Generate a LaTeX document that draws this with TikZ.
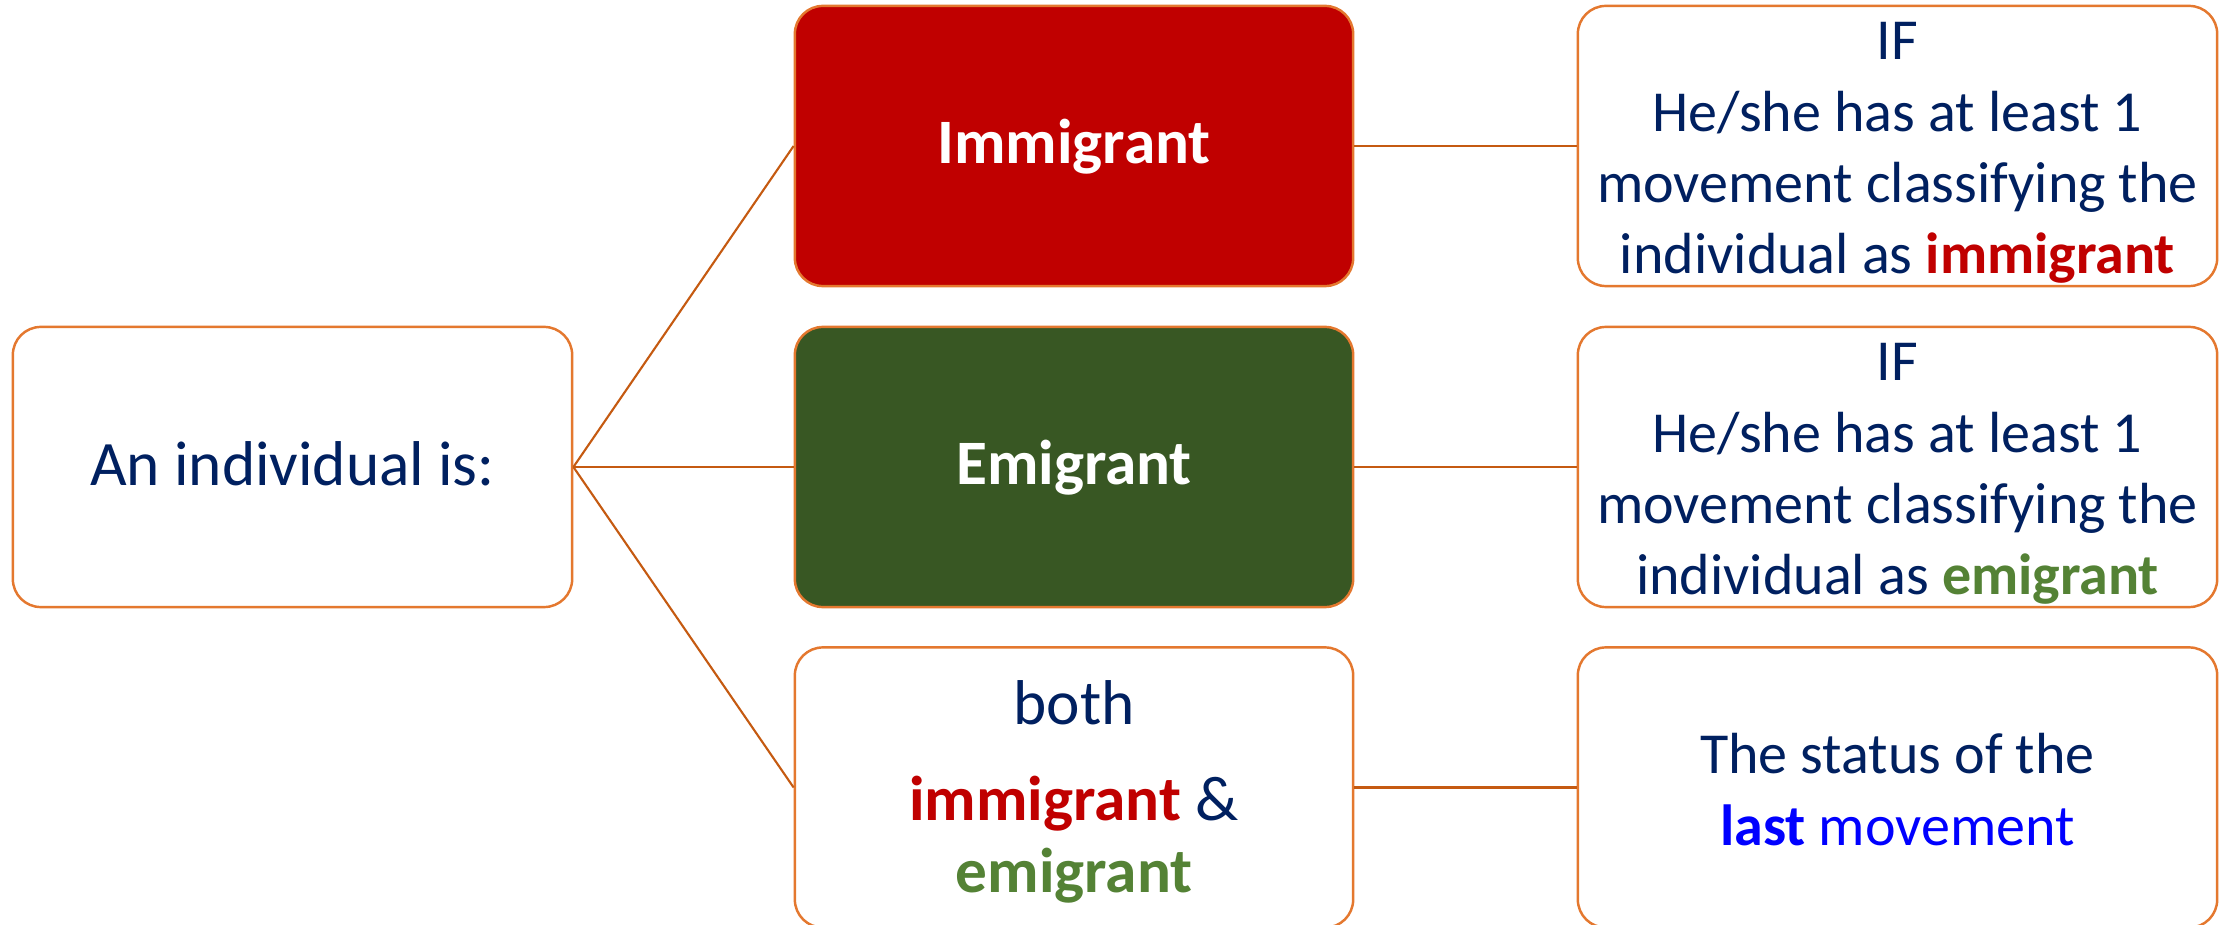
\documentclass[tikz,border=0pt]{standalone}
\usepackage{fontspec}
\setmainfont{Carlito}
\definecolor{navy}{HTML}{002060}
\definecolor{redc}{HTML}{C00000}
\definecolor{greentext}{HTML}{548235}
\definecolor{greenfill}{HTML}{385723}
\definecolor{bluec}{HTML}{0000FF}
\definecolor{boxedge}{HTML}{E4782F}
\definecolor{linkcol}{HTML}{C55A11}
\begin{document}
\begin{tikzpicture}[x=0.01cm,y=-0.01cm,
  box/.style={draw=boxedge, line width=0.7pt, rounded corners=0.28cm, inner sep=0pt, fill=white},
  midbox/.style={box, minimum width=5.58cm, minimum height=2.80cm},
  rightbox/.style={box, minimum width=6.39cm, minimum height=2.80cm},
  link/.style={draw=linkcol, line width=0.6pt},
  txt/.style={anchor=base, inner sep=0pt, text=navy},
  bigfont/.style={font=\fontsize{18}{21.6}\selectfont},
  smallfont/.style={font=\fontsize{16.5}{20.2}\selectfont}]
\useasboundingbox (0,0) rectangle (2234,925);
% boxes
\node[box, minimum width=5.59cm, minimum height=2.80cm] (ind) at (292.5,467) {};
\node[midbox, fill=redc] (imm) at (1074,146) {};
\node[midbox, fill=greenfill] (emi) at (1074,467) {};
\node[midbox] (both) at (1074,787.5) {};
\node[rightbox] (r1) at (1897.5,146) {};
\node[rightbox] (r2) at (1897.5,467) {};
\node[rightbox] (r3) at (1897.5,787.5) {};
% connectors
\draw[link] (ind.east) -- (imm.west);
\draw[link] (ind.east) -- (emi.west);
\draw[link] (ind.east) -- (both.west);
\draw[link] (imm.east) -- (r1.west);
\draw[link] (emi.east) -- (r2.west);
\draw[link] (both.east) -- (r3.west);
% texts
\node[txt, bigfont] (tind) at (292.5,486) {An individual is:};
\node[txt, bigfont, text=white] (timm) at (1074,164) {\bfseries Immigrant};
\node[txt, bigfont, text=white] (temi) at (1074,485) {\bfseries Emigrant};
\node[txt, font=\fontsize{18}{20.5}\selectfont] (tboth) at (1074,724)
  {\begin{tabular}[t]{@{}c@{}}both\\[6.8pt]\textcolor{redc}{\textbf{immigrant}} \&\\\textcolor{greentext}{\textbf{emigrant}}\end{tabular}};
\node[txt, smallfont] (tr1) at (1897.5,60)
  {\begin{tabular}[t]{@{}c@{}}IF\\He/she has at least 1\\movement classifying the\\individual as \textcolor{redc}{\textbf{immigrant}}\end{tabular}};
\node[txt, smallfont] (tr2) at (1897.5,381)
  {\begin{tabular}[t]{@{}c@{}}IF\\He/she has at least 1\\movement classifying the\\individual as \textcolor{greentext}{\textbf{emigrant}}\end{tabular}};
\node[txt, font=\fontsize{16.5}{20.5}\selectfont] (tr3) at (1897.5,773)
  {\begin{tabular}[t]{@{}c@{}}The status of the\\\textcolor{bluec}{\textbf{last} movement}\end{tabular}};
\end{tikzpicture}
\end{document}
